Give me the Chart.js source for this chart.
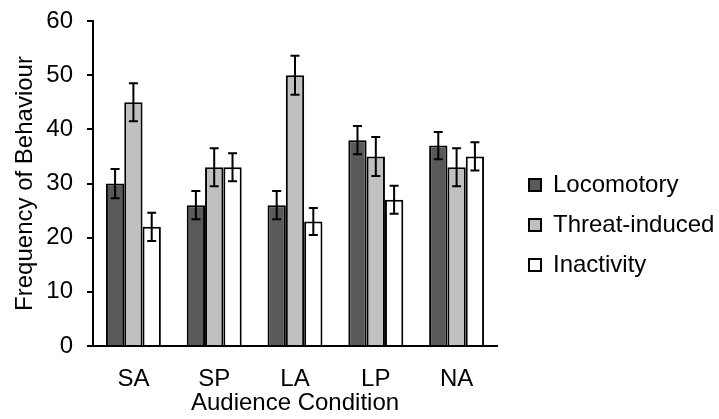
<!DOCTYPE html>
<html>
<head>
<meta charset="utf-8">
<script src="https://cdn.jsdelivr.net/npm/chart.js@4"></script>
<style>
  html, body { margin: 0; padding: 0; background: #fff; }
  #wrap { width: 719px; height: 419px; }
</style>
</head>
<body>
<div id="wrap"><canvas id="behaviourChart" width="719" height="419"></canvas></div>
<script>
// categories and series
const conditions = ["SA", "SP", "LA", "LP", "NA"];
const locomotory = [30, 26, 26, 38, 37];
const threatInduced = [45, 33, 50, 35, 33];
const inactivity = [22, 33, 23, 27, 35];
// error bar half-lengths
const locomotoryErr = [2.7, 2.6, 2.6, 2.6, 2.5];
const threatErr = [3.5, 3.5, 3.6, 3.6, 3.5];
const inactivityErr = [2.6, 2.6, 2.5, 2.6, 2.6];
const yTicks = [0, 10, 20, 30, 40, 50, 60];

const ctx = document.getElementById("behaviourChart").getContext("2d");
const fontFamily = "'Liberation Sans', Arial, sans-serif";
const bigFont = { family: fontFamily, size: 24 };

// draws the error bars using the chart's own scales
const errorBars = {
    id: "errorBars",
    afterDatasetsDraw(chart) {
        const c = chart.ctx;
        const yScale = chart.scales.y;
        c.save();
        c.strokeStyle = "#000";
        c.lineWidth = 2;
        chart.data.datasets.forEach((ds, i) => {
            const meta = chart.getDatasetMeta(i);
            meta.data.forEach((bar, j) => {
                const v = ds.data[j];
                const e = ds.errors[j];
                const top = yScale.getPixelForValue(v + e);
                const bottom = yScale.getPixelForValue(v - e);
                const x = bar.x;
                c.beginPath();
                c.moveTo(x, top);
                c.lineTo(x, bottom);
                c.moveTo(x - 4.5, top);
                c.lineTo(x + 4.5, top);
                c.moveTo(x - 4.5, bottom);
                c.lineTo(x + 4.5, bottom);
                c.stroke();
            });
        });
        c.restore();
    }
};

new Chart(ctx, {
    type: "bar",
    data: {
        labels: conditions,
        datasets: [
            { label: "Locomotory", data: locomotory, errors: locomotoryErr, backgroundColor: "#595959", borderColor: "#000", borderWidth: 2 },
            { label: "Threat-induced", data: threatInduced, errors: threatErr, backgroundColor: "#c0c0c0", borderColor: "#000", borderWidth: 2 },
            { label: "Inactivity", data: inactivity, errors: inactivityErr, backgroundColor: "#ffffff", borderColor: "#000", borderWidth: 2 }
        ]
    },
    options: {
        responsive: false,
        animation: false,
        layout: { padding: { top: 0, right: 0, left: 7, bottom: 0 } },
        datasets: { bar: { barPercentage: 1, categoryPercentage: 0.68 } },
        plugins: {
            legend: {
                position: "right",
                align: "center",
                maxWidth: 206,
                title: { display: true, text: "", padding: 0, font: { size: 10, lineHeight: 3.1 } },
                labels: {
                    boxWidth: 12,
                    boxHeight: 12,
                    padding: 16,
                    color: "#000",
                    font: bigFont
                }
            },
            tooltip: { enabled: false }
        },
        scales: {
            x: {
                grid: { display: false, drawTicks: false },
                border: { display: true, color: "#000", width: 2 },
                ticks: { color: "#000", padding: 19, font: bigFont },
                title: { display: true, text: "Audience Condition", color: "#000", padding: { top: 0, bottom: 1 }, font: bigFont },
                afterFit: (scale) => { scale.height = 73; }
            },
            y: {
                min: 0,
                max: 60,
                afterBuildTicks: (scale) => { scale.ticks = yTicks.map(v => ({ value: v })); },
                grid: { display: true, drawOnChartArea: false, drawTicks: true, tickLength: 6, color: "#000", lineWidth: 2, tickColor: "#000", tickWidth: 2 },
                border: { display: true, color: "#000", width: 2 },
                ticks: { color: "#000", padding: 14, font: bigFont },
                title: { display: true, text: "Frequency of Behaviour", color: "#000", padding: { top: 4, bottom: 6 }, font: bigFont },
                afterFit: (scale) => {
                    scale.width = 86;
                    scale.paddingTop = 21; // room above the top tick as in the original
                }
            },
            // empty right-hand axis, only keeps the gap before the legend
            gap: {
                axis: "y",
                position: "right",
                grid: { display: false },
                border: { display: false },
                ticks: { display: false },
                afterFit: (scale) => { scale.width = 16; }
            }
        }
    },
    plugins: [errorBars]
});
</script>
</body>
</html>
